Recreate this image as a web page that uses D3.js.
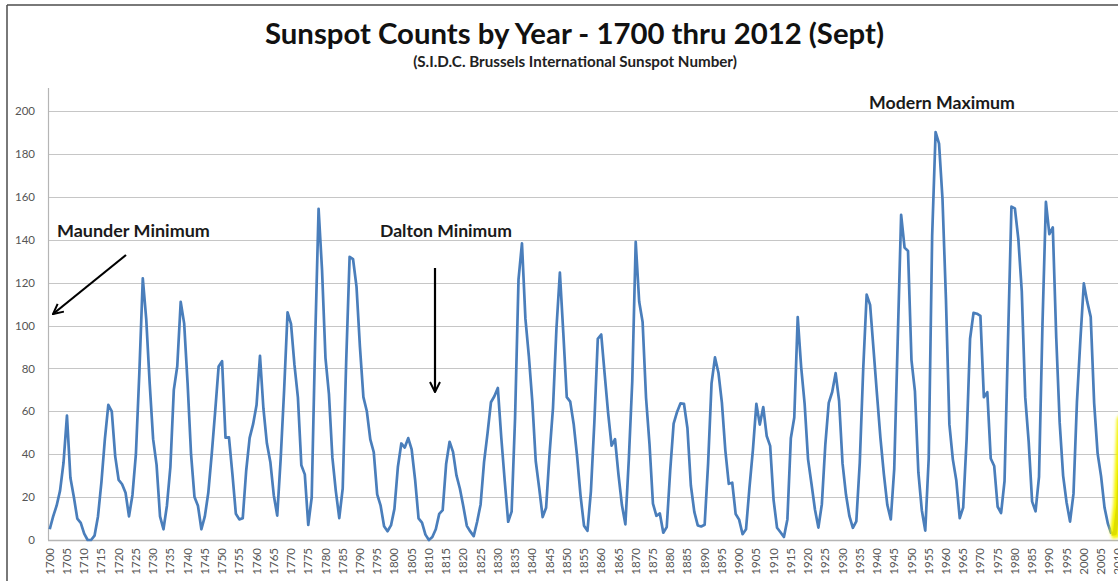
<!DOCTYPE html>
<html>
<head>
<meta charset="utf-8">
<script src="https://cdn.jsdelivr.net/npm/d3@7"></script>
<style>
  html, body { margin: 0; padding: 0; background: #fff; overflow: hidden; }
  svg { display: block; }
</style>
</head>
<body>
<svg id="chart" width="1118" height="581"></svg>
<script>
// ---------------- DATA ----------------
const firstYear = 1700;
const lastYear = 2012;
const years = d3.range(firstYear, lastYear + 1);
const sunspots = [
  5,11,16,23,36,58,29,20,10,8,
  3,0,0,2,11,27,47,63,60,39,
  28,26,22,11,21,40,78,122,103,73,
  47,35,11,5,16,34,70,81,111,101,
  73,40,20,16,5,11,22,40,60,80.9,
  83.4,47.7,47.8,30.7,12.2,9.6,10.2,32.4,47.6,54.0,
  62.9,85.9,61.2,45.1,36.4,20.9,11.4,37.8,69.8,106.1,
  100.8,81.6,66.5,34.8,30.6,7.0,19.8,92.5,154.4,125.9,
  84.8,68.1,38.5,22.8,10.2,24.1,82.9,132.0,130.9,118.1,
  89.9,66.6,60.0,46.9,41.0,21.3,16.0,6.4,4.1,6.8,
  14.5,34.0,45.0,43.1,47.5,42.2,28.1,10.1,8.1,2.5,
  0.0,1.4,5.0,12.2,13.9,35.4,45.8,41.1,30.1,23.9,
  15.6,6.6,4.0,1.8,8.5,16.6,36.3,49.6,64.2,67.0,
  70.9,47.8,27.5,8.5,13.2,56.9,121.5,138.3,103.2,85.7,
  64.6,36.7,24.2,10.7,15.0,40.1,61.5,98.5,124.7,96.3,
  66.6,64.5,54.1,39.0,20.6,6.7,4.3,22.7,54.8,93.8,
  95.8,77.2,59.1,44.0,47.0,30.5,16.3,7.3,37.6,74.0,
  139.0,111.2,101.6,66.2,44.7,17.0,11.3,12.4,3.4,6.0,
  32.3,54.3,59.7,63.7,63.5,52.2,25.4,13.1,6.8,6.3,
  7.1,35.6,73.0,85.1,78.0,64.0,41.8,26.2,26.7,12.1,
  9.5,2.7,5.0,24.4,42.0,63.5,53.8,62.0,48.5,43.9,
  18.6,5.7,3.6,1.4,9.6,47.4,57.1,103.9,80.6,63.6,
  37.6,26.1,14.2,5.8,16.7,44.3,63.9,69.0,77.8,64.9,
  35.7,21.2,11.1,5.7,8.7,36.1,79.7,114.4,109.6,88.8,
  67.8,47.5,30.6,16.3,9.6,33.2,92.6,151.6,136.3,134.7,
  83.9,69.4,31.5,13.9,4.4,38.0,141.7,190.2,184.8,159.0,
  112.3,53.9,37.6,27.9,10.2,15.1,47.0,93.8,105.9,105.5,
  104.5,66.6,68.9,38.0,34.5,15.5,12.6,27.5,92.5,155.4,
  154.6,140.4,115.9,66.6,45.9,17.9,13.4,29.4,100.2,157.6,
  142.6,145.7,94.3,54.6,29.9,17.5,8.6,21.5,64.3,93.3,
  119.6,111.0,104.0,63.7,40.4,29.8,15.2,7.5,2.9,3.1,
  16.5,55.7,58.0
];
const highlightFrom = 2008;           // recent cycle drawn highlighted
const yTicks = [0,20,40,60,80,100,120,140,160,180,200];
const xTickYears = years.filter(y => (y - firstYear) % 5 === 0);

const titleText = "Sunspot Counts by Year - 1700 thru 2012 (Sept)";
const subtitleText = "(S.I.D.C. Brussels International Sunspot Number)";
const annotations = [
  { text: "Maunder Minimum", x: 57, y: 237, w: 153 },
  { text: "Dalton Minimum", x: 380, y: 237, w: 132 },
  { text: "Modern Maximum", x: 869, y: 109, w: 146 }
];
const arrows = [
  { x1: 126, y1: 255, x2: 53, y2: 314 },
  { x1: 435, y1: 268, x2: 435, y2: 392 }
];

const data = years.map((y, i) => ({ year: y, value: sunspots[i] }));

// ---------------- LAYOUT ----------------
const svg = d3.select("#chart");
const plotLeft = 48, plotBottom = 540, plotTop200 = 111;
const bandW = 3.447;
const plotRight = plotLeft + years.length * bandW;

const x = d3.scaleBand().domain(years).range([plotLeft, plotRight]).paddingInner(0).paddingOuter(0);
const xc = yr => x(yr) + x.bandwidth() / 2;
const y = d3.scaleLinear().domain([0, 200]).range([plotBottom, plotTop200]);

const FONT = "Lato, Calibri, 'Open Sans', sans-serif";

function fit(sel, target) {
  const n = sel.node();
  const fs = parseFloat(sel.attr("font-size"));
  const w = n.getComputedTextLength();
  if (w > 0) sel.attr("font-size", (fs * target / w).toFixed(2));
}

// frame
svg.append("line").attr("x1", 7).attr("x2", 1118).attr("y1", 5).attr("y2", 5)
  .attr("stroke", "#4d4d4d").attr("stroke-width", 1.5);
svg.append("line").attr("x1", 7).attr("x2", 7).attr("y1", 5).attr("y2", 581)
  .attr("stroke", "#4d4d4d").attr("stroke-width", 1.5);

// gridlines
svg.append("g").selectAll("line").data(yTicks.filter(d => d > 0)).join("line")
  .attr("x1", plotLeft).attr("x2", 1118)
  .attr("y1", d => Math.round(y(d)) + 0.5).attr("y2", d => Math.round(y(d)) + 0.5)
  .attr("stroke", "#c6c6c6").attr("stroke-width", 1.2);

// y axis
const yAxis = d3.axisLeft(y).tickValues(yTicks).tickSize(0).tickPadding(13);
const gy = svg.append("g").attr("transform", `translate(${plotLeft},0)`).call(yAxis);
gy.select(".domain").remove();
gy.selectAll("text").attr("font-family", FONT).attr("font-size", 11.5).attr("fill", "#555");
svg.append("line").attr("x1", plotLeft + 0.5).attr("x2", plotLeft + 0.5).attr("y1", 88).attr("y2", plotBottom)
  .attr("stroke", "#b5b5b5").attr("stroke-width", 1.2);

// x axis
const xAxis = d3.axisBottom(x).tickValues(xTickYears).tickSize(0).tickPadding(0);
const gx = svg.append("g").attr("transform", `translate(0,${plotBottom})`).call(xAxis);
gx.select(".domain").remove();
gx.selectAll("text")
  .attr("font-family", FONT).attr("font-size", 11.5).attr("fill", "#555")
  .attr("transform", "rotate(-90)")
  .attr("text-anchor", "end").attr("dy", "0.35em").attr("x", -8).attr("y", 0);
svg.append("line").attr("x1", plotLeft).attr("x2", 1118).attr("y1", plotBottom + 0.5).attr("y2", plotBottom + 0.5)
  .attr("stroke", "#b5b5b5").attr("stroke-width", 1.5);

// highlight glow filter
const defs = svg.append("defs");
const f = defs.append("filter").attr("id", "glow").attr("x", "-50%").attr("y", "-50%").attr("width", "200%").attr("height", "200%");
f.append("feGaussianBlur").attr("stdDeviation", 1.6);

// series line
const line = d3.line().x(d => xc(d.year)).y(d => y(d.value));
svg.append("path").datum(data.filter(d => d.year <= highlightFrom))
  .attr("d", line).attr("fill", "none")
  .attr("stroke", "#4a7ebb").attr("stroke-width", 2.7).attr("stroke-linejoin", "round");

const recent = data.filter(d => d.year >= highlightFrom);
svg.append("path").datum(recent).attr("d", line).attr("fill", "none")
  .attr("stroke", "#f4f400").attr("stroke-width", 10).attr("filter", "url(#glow)");
svg.append("path").datum(recent).attr("d", line).attr("fill", "none")
  .attr("stroke", "#dede00").attr("stroke-width", 4).attr("stroke-linejoin", "round");

// title
const t = svg.append("text").attr("x", 574.5).attr("y", 44).attr("text-anchor", "middle")
  .attr("font-family", FONT).attr("font-weight", 700).attr("font-size", 27).attr("fill", "#111")
  .text(titleText);
fit(t, 619);
const st = svg.append("text").attr("x", 575).attr("y", 67).attr("text-anchor", "middle")
  .attr("font-family", FONT).attr("font-weight", 700).attr("font-size", 11).attr("fill", "#222")
  .text(subtitleText);
fit(st, 324);

// annotations
annotations.forEach(a => {
  const s = svg.append("text").attr("x", a.x).attr("y", a.y)
    .attr("font-family", FONT).attr("font-weight", 700).attr("font-size", 15).attr("fill", "#1a1a1a")
    .text(a.text);
  fit(s, a.w);
});

defs.append("marker").attr("id", "arr").attr("viewBox", "0 0 12 12")
  .attr("refX", 11).attr("refY", 6).attr("markerWidth", 12).attr("markerHeight", 12)
  .attr("markerUnits", "userSpaceOnUse").attr("orient", "auto")
  .append("path").attr("d", "M1,1 L11,6 L1,11").attr("fill", "none")
  .attr("stroke", "#000").attr("stroke-width", 2);

arrows.forEach(a => {
  svg.append("line").attr("x1", a.x1).attr("y1", a.y1).attr("x2", a.x2).attr("y2", a.y2)
    .attr("stroke", "#000").attr("stroke-width", 2.2).attr("marker-end", "url(#arr)");
});
</script>
</body>
</html>
